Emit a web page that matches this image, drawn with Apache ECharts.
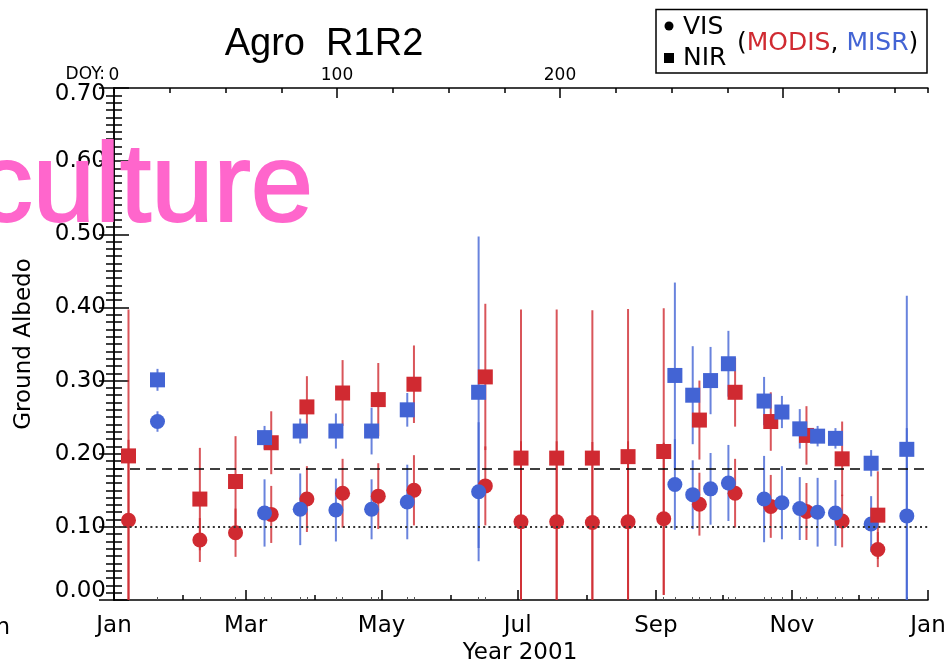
<!DOCTYPE html>
<html>
<head>
<meta charset="utf-8">
<title>Agro R1R2</title>
<script src="https://cdn.jsdelivr.net/npm/echarts@6/dist/echarts.min.js"></script>
<style>
  html, body { margin: 0; padding: 0; background: #fff; }
  #main { width: 951px; height: 667px; }
</style>
</head>
<body>
<div id="main"></div>
<script>
// MODIS: 16-day periods, MISR: 8-day periods (day of year 2001)
var modisDoy = [6.5, 38.5, 54.5, 70.5, 86.5, 102.5, 118.5, 134.5, 166.5, 182.5,
    198.5, 214.5, 230.5, 246.5, 262.5, 278.5, 294.5, 310.5, 326.5, 342.5];
var modisVis = [0.109, 0.082, 0.092, 0.117, 0.138, 0.146, 0.142, 0.150, 0.156, 0.107,
    0.107, 0.106, 0.107, 0.111, 0.131, 0.146, 0.128, 0.121, 0.108, 0.069];
var modisVisErr = [0.11, 0.03, 0.033, 0.039, 0.045, 0.047, 0.045, 0.048, 0.054, 0.11,
    0.11, 0.11, 0.11, 0.104, 0.043, 0.047, 0.043, 0.039, 0.036, 0.024];
var modisNir = [0.197, 0.138, 0.162, 0.215, 0.264, 0.283, 0.274, 0.295, 0.305, 0.194,
    0.194, 0.194, 0.196, 0.203, 0.246, 0.284, 0.244, 0.225, 0.193, 0.116];
var modisNirErr = [0.2, 0.07, 0.062, 0.043, 0.042, 0.045, 0.05, 0.053, 0.1, 0.203,
    0.203, 0.202, 0.202, 0.196, 0.054, 0.047, 0.04, 0.04, 0.051, 0.06];

var misrDoy = [19.5, 67.5, 83.5, 99.5, 115.5, 131.5, 163.5, 251.5, 259.5, 267.5,
    275.5, 291.5, 299.5, 307.5, 315.5, 323.5, 339.5, 355.5];
var misrVis = [0.244, 0.119, 0.124, 0.123, 0.124, 0.134, 0.148, 0.158, 0.144, 0.152,
    0.160, 0.138, 0.133, 0.125, 0.120, 0.119, 0.104, 0.115];
var misrVisErr = [0.014, 0.046, 0.049, 0.043, 0.041, 0.051, 0.095, 0.062, 0.047, 0.049,
    0.052, 0.059, 0.05, 0.043, 0.047, 0.045, 0.038, 0.12];
var misrNir = [0.301, 0.222, 0.231, 0.231, 0.231, 0.26, 0.284, 0.307, 0.28, 0.30,
    0.323, 0.272, 0.257, 0.234, 0.224, 0.221, 0.187, 0.206];
var misrNirErr = [0.015, 0.016, 0.017, 0.024, 0.032, 0.023, 0.213, 0.127, 0.067, 0.046,
    0.045, 0.033, 0.022, 0.027, 0.014, 0.014, 0.018, 0.21];

var monthTicks = [0, 59, 120, 181, 243, 304, 365];
var monthNames = ['Jan', 'Mar', 'May', 'Jul', 'Sep', 'Nov', 'Jan'];
var minorMonthTicks = [31, 90, 151, 212, 273, 334];
var doyMajor = [100, 200, 300];
var refNir = 0.18, refVis = 0.10;

var RED = '#d02a31', BLUE = '#4364d4';
var FONT = 'DejaVu Sans';

function pts(doy, val, err) {
    return doy.map(function (d, i) { return [d, val[i], err[i]]; });
}

function errorBar(params, api) {
    var x = api.value(0), v = api.value(1), e = api.value(2);
    var lo = api.coord([x, v - e]);
    var hi = api.coord([x, v + e]);
    return {
        type: 'line',
        shape: { x1: lo[0], y1: lo[1], x2: hi[0], y2: hi[1] },
        style: { stroke: api.visual('color'), lineWidth: 2, opacity: 0.8 }
    };
}

function barSeries(data, color) {
    return {
        type: 'custom', renderItem: errorBar, data: data, color: color,
        clip: true, silent: true, z: 1, encode: { x: 0, y: 1 }
    };
}

function dotSeries(data, color, symbol, size, z) {
    return {
        type: 'scatter', data: data, color: color, symbol: symbol,
        symbolSize: size, z: z, silent: true, encode: { x: 0, y: 1 },
        itemStyle: { opacity: 1 }
    };
}

var allDoy = modisDoy.concat(misrDoy);

// keep the end labels inside the axis, as in the original plot
function yLabel(v) {
    var s = v.toFixed(2);
    if (v === 0) return '{lo|' + s + '}';
    if (Math.abs(v - 0.7) < 1e-9) return '{hi|' + s + '}';
    return s;
}
var yRich = {
    lo: { fontFamily: FONT, fontSize: 23, color: '#000', padding: [0, 0, 18, 0] },
    hi: { fontFamily: FONT, fontSize: 23, color: '#000', padding: [12, 0, 0, 0] }
};

var option = {
    animation: false,
    grid: { left: 114, top: 88, right: 23, bottom: 67 },
    xAxis: [{
        // months, labelled
        type: 'value', min: 0, max: 365, position: 'bottom',
        axisLine: { show: true, lineStyle: { color: '#000', width: 1.5 } },
        axisTick: { show: true, inside: true, length: 10, customValues: monthTicks,
            lineStyle: { color: '#000', width: 1.5 } },
        axisLabel: { customValues: monthTicks, margin: 15, color: '#000',
            fontFamily: FONT, fontSize: 23,
            formatter: function (v) { return monthNames[monthTicks.indexOf(v)]; } },
        splitLine: { show: false }
    }, {
        type: 'value', min: 0, max: 365, position: 'bottom',
        axisLine: { show: false },
        axisTick: { show: true, inside: true, length: 5, customValues: minorMonthTicks,
            lineStyle: { color: '#000', width: 1.5 } },
        axisLabel: { show: false }, splitLine: { show: false }
    }, {
        // small marks at the composite dates
        type: 'value', min: 0, max: 365, position: 'bottom',
        axisLine: { show: false },
        axisTick: { show: true, inside: true, length: 3, customValues: allDoy,
            lineStyle: { color: '#555', width: 1 } },
        axisLabel: { show: false }, splitLine: { show: false }
    }, {
        // DOY on top
        type: 'value', min: 0, max: 365, interval: 25, position: 'top',
        axisLine: { show: true, lineStyle: { color: '#000', width: 1.5 } },
        axisTick: { show: true, inside: true, length: 5, lineStyle: { color: '#000', width: 1.5 } },
        axisLabel: { margin: 4, color: '#000', fontFamily: FONT, fontSize: 17,
            formatter: function (v) { return (v % 100 === 0 && v <= 200) ? String(v) : ''; } },
        splitLine: { show: false }
    }, {
        type: 'value', min: 0, max: 365, position: 'top',
        axisLine: { show: false },
        axisTick: { show: true, inside: true, length: 10, customValues: doyMajor,
            lineStyle: { color: '#000', width: 1.5 } },
        axisLabel: { show: false }, splitLine: { show: false }
    }],
    yAxis: [{
        type: 'value', min: 0, max: 0.7, interval: 0.1, position: 'left',
        axisLine: { show: true, lineStyle: { color: '#000', width: 1.5 } },
        axisTick: { show: true, inside: true, length: 15, lineStyle: { color: '#000', width: 1.5 } },
        minorTick: { show: true, splitNumber: 10, length: 8, lineStyle: { color: '#000', width: 1.5 } },
        axisLabel: { margin: 8, color: '#000', fontFamily: FONT, fontSize: 23,
            formatter: yLabel, rich: yRich },
        splitLine: { show: false }
    }, {
        type: 'value', min: 0, max: 0.7, interval: 0.1, position: 'right',
        axisLine: { show: true, lineStyle: { color: '#000', width: 1.5 } },
        axisTick: { show: true, inside: true, length: 15, lineStyle: { color: '#000', width: 1.5 } },
        minorTick: { show: true, splitNumber: 10, length: 8, lineStyle: { color: '#000', width: 1.5 } },
        axisLabel: { show: false },
        splitLine: { show: false }
    }],
    series: [
        barSeries(pts(modisDoy, modisNir, modisNirErr), RED),
        barSeries(pts(modisDoy, modisVis, modisVisErr), RED),
        barSeries(pts(misrDoy, misrNir, misrNirErr), BLUE),
        barSeries(pts(misrDoy, misrVis, misrVisErr), BLUE),
        dotSeries(pts(modisDoy, modisVis, modisVisErr), RED, 'circle', 15, 3),
        dotSeries(pts(misrDoy, misrVis, misrVisErr), BLUE, 'circle', 15, 4),
        dotSeries(pts(modisDoy, modisNir, modisNirErr), RED, 'rect', 15, 5),
        dotSeries(pts(misrDoy, misrNir, misrNirErr), BLUE, 'rect', 15, 6),
        {
            type: 'line', data: [], silent: true,
            markLine: {
                silent: true, symbol: 'none', label: { show: false },
                data: [
                    { yAxis: refNir, lineStyle: { color: '#000', width: 1.5, type: [10, 6] } },
                    { yAxis: refVis, lineStyle: { color: '#333', width: 2, type: [2, 3.2] } }
                ]
            }
        }
    ],
    graphic: [
        { type: 'text', x: 324, y: 45, z: 10,
          style: { text: 'Agro  R1R2', font: '38px "Liberation Sans"', fill: '#000',
                   align: 'center', verticalAlign: 'middle' } },
        { type: 'text', x: 105, y: 75, z: 10,
          style: { text: 'DOY:', font: '17px "DejaVu Sans"', fill: '#000',
                   align: 'right', verticalAlign: 'middle' } },
        { type: 'text', x: 520, y: 653, z: 10,
          style: { text: 'Year 2001', font: '23px "DejaVu Sans"', fill: '#000',
                   align: 'center', verticalAlign: 'middle' } },
        { type: 'text', x: 24, y: 344, rotation: Math.PI / 2, z: 10,
          style: { text: 'Ground Albedo', font: '23px "DejaVu Sans"', fill: '#000',
                   align: 'center', verticalAlign: 'middle' } },
        { type: 'text', x: 10, y: 628, z: 10,
          style: { text: 'Jan', font: '23px "DejaVu Sans"', fill: '#000',
                   align: 'right', verticalAlign: 'middle' } },
        // legend box
        { type: 'rect', z: 20, shape: { x: 656, y: 9.5, width: 271, height: 63.5 },
          style: { fill: '#fff', stroke: '#000', lineWidth: 1.5 } },
        { type: 'circle', z: 21, shape: { cx: 669, cy: 26, r: 4.5 }, style: { fill: '#000' } },
        { type: 'rect', z: 21, shape: { x: 664, y: 53, width: 10, height: 10 }, style: { fill: '#000' } },
        { type: 'text', x: 683, y: 27, z: 21,
          style: { text: 'VIS', font: '25px "DejaVu Sans"', fill: '#000', verticalAlign: 'middle' } },
        { type: 'text', x: 683, y: 58, z: 21,
          style: { text: 'NIR', font: '25px "DejaVu Sans"', fill: '#000', verticalAlign: 'middle' } },
        { type: 'text', x: 737, y: 43, z: 21,
          style: { text: '({r|MODIS}, {b|MISR})', font: '25px "DejaVu Sans"', fill: '#000',
                   verticalAlign: 'middle',
                   rich: { r: { fill: RED, font: '25px "DejaVu Sans"' },
                           b: { fill: BLUE, font: '25px "DejaVu Sans"' } } } },
        // overlay text
        { type: 'text', x: 313, y: 246, z: 30,
          style: { text: 'culture', font: '112px "Liberation Sans"', fill: '#ff66cc',
                   stroke: '#ff66cc', lineWidth: 2,
                   align: 'right', verticalAlign: 'bottom' } }
    ]
};

var myChart = echarts.init(document.getElementById('main'));
myChart.setOption(option);
</script>
</body>
</html>
